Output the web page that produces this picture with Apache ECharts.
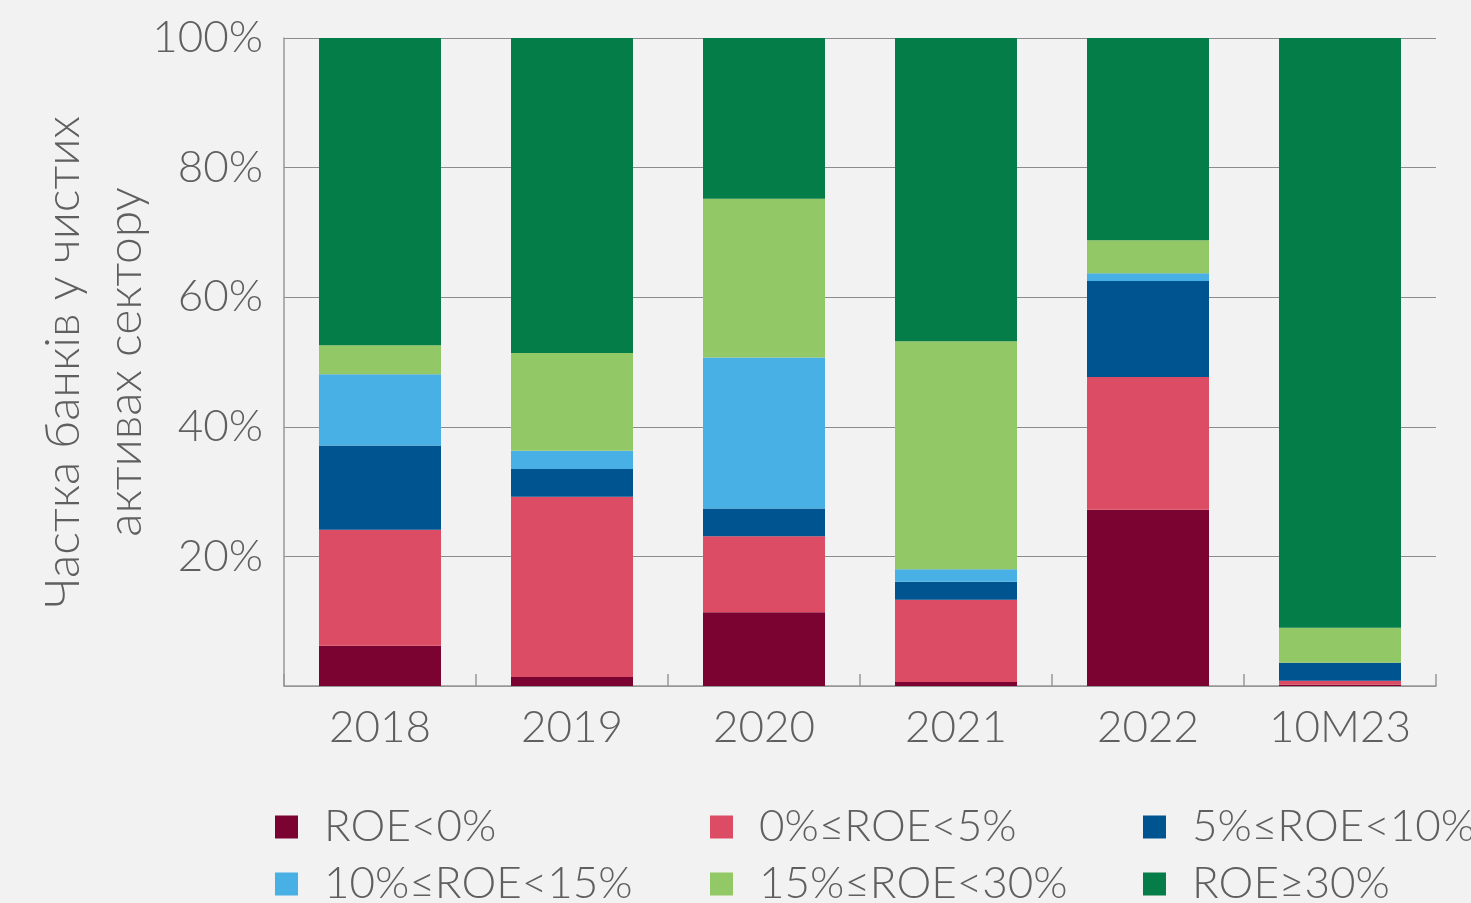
<!DOCTYPE html>
<html>
<head>
<meta charset="utf-8">
<script src="https://cdn.jsdelivr.net/npm/echarts@6/dist/echarts.min.js"></script>
<style>
  html, body { margin: 0; padding: 0; background: #f2f2f2; }
  #chart { width: 1471px; height: 903px; }
</style>
</head>
<body>
<div id="chart"></div>
<script>
// categories and values (share of banks in net assets, %)
var years = ['2018', '2019', '2020', '2021', '2022', '10M23'];
var roeNeg   = [6.2, 1.4, 11.4, 0.6, 27.2, 0.2];
var roe0to5  = [17.9, 27.8, 11.7, 12.7, 20.5, 0.6];
var roe5to10 = [13.0, 4.3, 4.3, 2.8, 14.8, 2.8];
var roe10to15 = [11.0, 2.8, 23.3, 1.9, 1.2, 0];
var roe15to30 = [4.5, 15.1, 24.5, 35.2, 5.1, 5.4];
var roe30plus = [47.4, 48.6, 24.8, 46.8, 31.2, 91.0];

var seriesNames = ['ROE<0%', '0%≤ROE<5%', '5%≤ROE<10%', '10%≤ROE<15%', '15%≤ROE<30%', 'ROE≥30%'];
var seriesData = [roeNeg, roe0to5, roe5to10, roe10to15, roe15to30, roe30plus];
var colors = ['#7b0332', '#dc4c64', '#005490', '#48b0e4', '#93c866', '#047d48'];

var font = 'Lato, "Open Sans", sans-serif';
var textColor = '#5f5f5f';

var myChart = echarts.init(document.getElementById('chart'));

function legendCol (left, names) {
  return {
    orient: 'vertical',
    left: left,
    top: 804,
    height: 300,
    padding: 0,
    itemWidth: 23,
    itemHeight: 23,
    itemGap: 11,
    icon: 'rect',
    selectedMode: false,
    data: names,
    textStyle: {
      fontFamily: font,
      fontWeight: 300,
      fontSize: 44,
      lineHeight: 46,
      color: textColor,
      padding: [0, 0, 0, 21]
    }
  }
}

var option = {
  backgroundColor: '#f2f2f2',
  color: colors,
  animation: false,
  grid: {
    left: 284,
    right: 35,
    top: 38,
    bottom: 217,
    containLabel: false
  },
  legend: [
    legendCol(275, [seriesNames[0], seriesNames[3]]),
    legendCol(710, [seriesNames[1], seriesNames[4]]),
    legendCol(1143, [seriesNames[2], seriesNames[5]])
  ],
  xAxis: {
    type: 'category',
    data: years,
    axisLine: { lineStyle: { color: '#999', width: 1.5 } },
    axisTick: { show: true, inside: true, length: 12, lineStyle: { color: '#999', width: 1.5 } },
    axisLabel: {
      interval: 0,
      margin: 20,
      fontFamily: font,
      fontWeight: 300,
      fontSize: 44,
      color: textColor
    }
  },
  yAxis: {
    type: 'value',
    min: 0,
    max: 100,
    interval: 20,
    name: 'Частка банків у чистих\nактивах сектору',
    nameLocation: 'middle',
    nameGap: 127,
    nameMoveOverlap: false,
    nameTextStyle: {
      fontFamily: font,
      fontWeight: 300,
      fontSize: 48,
      lineHeight: 62,
      color: textColor
    },
    axisLine: { show: true, lineStyle: { color: '#999', width: 1.5 } },
    axisTick: { show: false },
    splitLine: { lineStyle: { color: '#8c8c8c', width: 1 } },
    axisLabel: {
      showMinLabel: false,
      margin: 21,
      formatter: '{value}%',
      fontFamily: font,
      fontWeight: 300,
      fontSize: 44,
      color: textColor
    }
  },
  series: seriesNames.map(function (name, i) {
    return {
      name: name,
      type: 'bar',
      stack: 'total',
      barWidth: 122,
      data: seriesData[i],
      itemStyle: { color: colors[i] }
    }
  })
};

myChart.setOption(option);
</script>
</body>
</html>
